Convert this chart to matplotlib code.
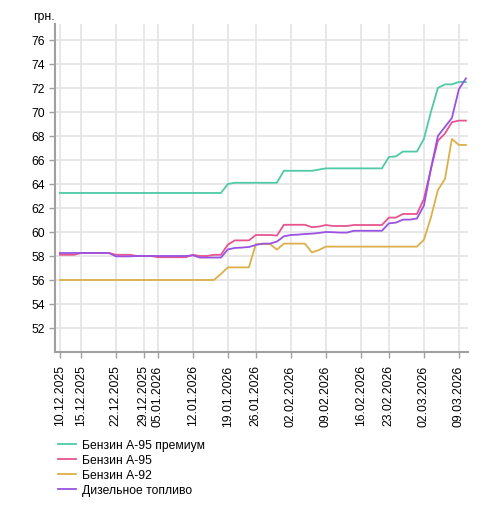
import matplotlib.pyplot as plt

plt.rcParams["font.family"] = ["Liberation Sans", "DejaVu Sans"]

dates = [
    "10.12.2025", "11.12.2025", "12.12.2025", "15.12.2025", "16.12.2025",
    "17.12.2025", "18.12.2025", "19.12.2025", "22.12.2025", "23.12.2025",
    "24.12.2025", "26.12.2025", "29.12.2025", "30.12.2025", "05.01.2026",
    "06.01.2026", "07.01.2026", "08.01.2026", "09.01.2026", "12.01.2026",
    "13.01.2026", "14.01.2026", "15.01.2026", "16.01.2026", "19.01.2026",
    "20.01.2026", "21.01.2026", "22.01.2026", "26.01.2026", "27.01.2026",
    "28.01.2026", "29.01.2026", "30.01.2026", "02.02.2026", "03.02.2026",
    "04.02.2026", "05.02.2026", "06.02.2026", "09.02.2026", "10.02.2026",
    "11.02.2026", "12.02.2026", "13.02.2026", "16.02.2026", "17.02.2026",
    "18.02.2026", "19.02.2026", "23.02.2026", "24.02.2026", "25.02.2026",
    "26.02.2026", "27.02.2026", "02.03.2026", "03.03.2026", "04.03.2026",
    "05.03.2026", "06.03.2026", "09.03.2026", "10.03.2026",
]

tick_labels = [
    "10.12.2025", "15.12.2025", "22.12.2025", "29.12.2025", "05.01.2026",
    "12.01.2026", "19.01.2026", "26.01.2026", "02.02.2026", "09.02.2026",
    "16.02.2026", "23.02.2026", "02.03.2026", "09.03.2026",
]

a95_premium = (
    [63.25] * 24 + [64.0] + [64.1] * 7 + [65.1] * 5 + [65.2] + [65.3] * 9
    + [66.25, 66.3, 66.7, 66.7, 66.7, 67.75, 70.0, 72.0, 72.3, 72.3, 72.5, 72.5]
)

a95 = (
    [58.1] * 3 + [58.25] * 5 + [58.1] * 3 + [58.0] * 3 + [57.9] * 5
    + [58.1, 58.0, 58.0, 58.1, 58.1, 58.95, 59.3, 59.3, 59.3,
       59.75, 59.75, 59.75, 59.7, 60.6, 60.6, 60.6, 60.6, 60.4, 60.45,
       60.58, 60.5, 60.5, 60.5]
    + [60.58] * 5
    + [61.2, 61.2, 61.5, 61.5, 61.5, 62.75, 65.25, 67.6, 68.2, 69.15, 69.28, 69.28]
)

a92 = (
    [56.0] * 23 + [56.5] + [57.05] * 4 + [59.0] * 3 + [58.53] + [59.03] * 4
    + [58.3, 58.5] + [58.78] * 14
    + [59.35, 61.2, 63.5, 64.4, 67.75, 67.25, 67.25]
)

diesel = (
    [58.25] * 8 + [57.97] * 3 + [58.0] * 8 + [58.05] + [57.87] * 4
    + [58.55, 58.67, 58.7, 58.75, 58.92, 59.03, 59.03, 59.2, 59.64, 59.75,
       59.78, 59.83, 59.86, 59.92, 60.0, 59.98, 59.95, 59.95]
    + [60.1] * 5
    + [60.72, 60.78, 61.03, 61.03, 61.12, 62.2, 65.25, 68.0, 68.75, 69.5, 71.9, 72.8]
)

series = [
    ("Бензин А-95 премиум", a95_premium, "#4ecaa6"),
    ("Бензин А-95", a95, "#e5558f"),
    ("Бензин А-92", a92, "#dbb04a"),
    ("Дизельное топливо", diesel, "#9a52e2"),
]

fig = plt.figure(figsize=(4.99, 5.06), dpi=100)
ax = fig.add_axes([55 / 499, 1 - 353 / 506, 413 / 499, 328 / 506])

x = list(range(len(dates)))
for name, vals, color in series:
    ax.plot(x, vals, color=color, lw=1.3, label=name)

ax.set_ylim(50, 77.33)
ax.set_xlim(-0.7, 58.3)
ax.set_yticks(range(52, 77, 2))

ax.set_xticks([dates.index(d) for d in tick_labels])
ax.set_xticklabels(tick_labels, rotation=90)

ax.grid(True, color="#e6e6e6", lw=1.3)
ax.set_axisbelow(True)

for s in ["top", "right"]:
    ax.spines[s].set_visible(False)
for s in ["left", "bottom"]:
    ax.spines[s].set_color("#a0a0a0")
    ax.spines[s].set_linewidth(1.5)

ax.tick_params(axis="both", colors="#a0a0a0", labelcolor="black",
               labelsize=8.8, length=4, width=1)
ax.tick_params(axis="x", pad=5)

fig.text(33 / 499, 1 - 17 / 506, "грн.", fontsize=8.8, va="center", ha="left")

fig.legend(loc="upper left", bbox_to_anchor=(58 / 499, 1 - 440.5 / 506),
           frameon=False, fontsize=8.7, handlelength=1.45, labelspacing=0.24,
           handletextpad=0.55, borderaxespad=0, borderpad=0)

plt.savefig("out.png", dpi=100)
